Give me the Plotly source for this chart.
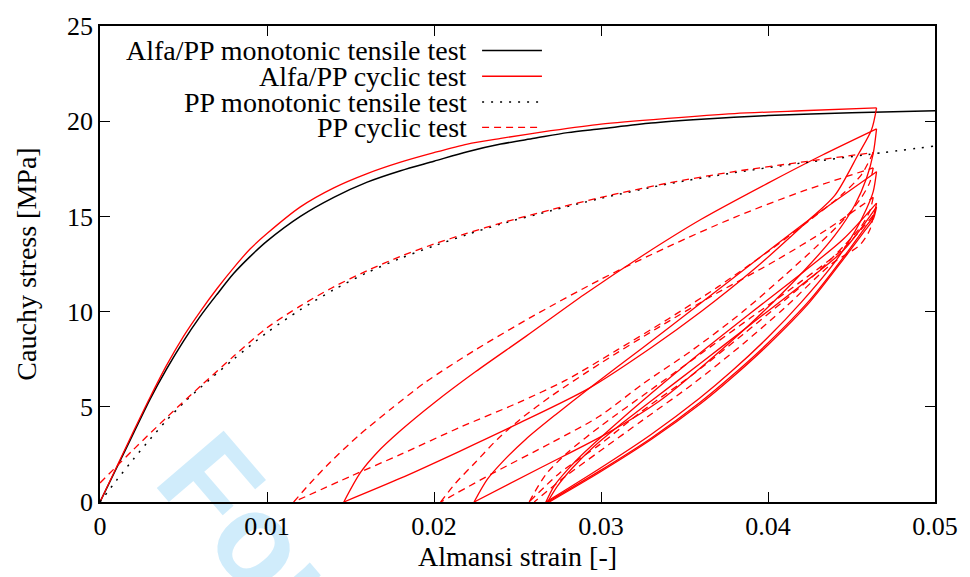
import plotly.graph_objects as go

# ---------------- data ----------------
# Alfa/PP monotonic tensile test (Almansi strain [-], Cauchy stress [MPa])
ALFA_MONO_STRAIN = [0, .001, .002, .003, .004, .005, .006, .007, .008, .009, .010, .012, .014,
                    .016, .018, .020, .022, .024, .026, .028, .030, .033, .036, .040, .045, .050]
ALFA_MONO_STRESS = [0, 1.8, 3.6, 5.4, 7.0, 8.45, 9.75, 10.9, 12.0, 12.9, 13.7, 15.0, 16.0,
                    16.8, 17.4, 17.9, 18.4, 18.8, 19.1, 19.4, 19.6, 19.9, 20.1, 20.3, 20.45, 20.55]

# Alfa/PP cyclic test: loading, then unload / reload loops at maximum strain
ALFA_CYC_STRAIN = [
    # first loading
    0, .001, .002, .003, .004, .005, .006, .007, .008, .009, .010, .012, .014, .016, .018,
    .020, .022, .024, .027, .030, .034, .038, .042, .0465,
    # unloading 1
    .0462, .0454, .0440, .0424, .039, .036, .033, .0293, .025, .0215, .018, .0146,
    # reloading 1
    .0156, .0166, .018, .020, .0225, .0255, .029, .0325, .036, .040, .0432, .0465,
    # unloading 2
    .0463, .0459, .0452, .0440, .042, .039, .0359, .0335, .0305, .0265, .0224,
    # reloading 2
    .0232, .0242, .0255, .0273, .0293, .0325, .0359, .039, .0425, .0465,
    # unloading 3
    .0463, .0459, .0452, .044, .042, .040, .0378, .0359, .033, .0299, .0267,
    # reloading 3
    .0272, .028, .029, .0305, .033, .0359, .039, .042, .0445, .0465,
    # unloading 4
    .0463, .0458, .0446, .0425, .040, .0378, .0359, .033, .0299, .0268,
    # reloading 4
    .0274, .0283, .0295, .031, .033, .0359, .039, .042, .0445, .0465,
    # unloading 5
    .0463, .0458, .0446, .0425, .040, .0378, .0359, .033, .0299, .0269,
]
ALFA_CYC_STRESS = [
    0, 1.85, 3.7, 5.5, 7.2, 8.7, 10.0, 11.2, 12.3, 13.3, 14.1, 15.5, 16.5, 17.25, 17.85,
    18.35, 18.8, 19.1, 19.5, 19.85, 20.15, 20.4, 20.55, 20.7,
    19.55, 18.25, 16.1, 14.77, 12.1, 10.0, 8.1, 5.98, 4.1, 2.65, 1.25, 0,
    1.55, 2.6, 3.75, 5.2, 6.85, 8.7, 10.9, 12.95, 14.85, 16.75, 18.2, 19.6,
    18.3, 17.0, 15.6, 14.0, 12.0, 9.4, 7.0, 5.3, 3.67, 1.85, 0,
    1.2, 2.2, 3.3, 4.6, 5.98, 8.1, 10.4, 12.5, 14.85, 17.35,
    16.3, 15.4, 14.2, 12.6, 10.5, 8.65, 6.85, 5.45, 3.55, 1.75, 0,
    0.85, 1.7, 2.6, 3.8, 5.7, 7.8, 9.95, 12.0, 13.8, 15.7,
    15.0, 14.4, 12.95, 10.6, 8.35, 6.6, 5.21, 3.35, 1.62, 0,
    0.85, 1.8, 2.85, 3.95, 5.3, 7.25, 9.35, 11.4, 13.2, 15.5,
    14.85, 14.25, 12.85, 10.5, 8.25, 6.5, 5.12, 3.28, 1.55, 0,
]

# PP monotonic tensile test
PP_MONO_STRAIN = [0, .001, .002, .003, .004, .005, .006, .008, .010, .012, .014, .016, .018,
                  .020, .022, .024, .027, .030, .034, .038, .042, .046, .050]
PP_MONO_STRESS = [0, 1.15, 2.25, 3.3, 4.3, 5.2, 6.0, 7.5, 8.9, 10.1, 11.15, 12.05, 12.8,
                  13.45, 14.05, 14.6, 15.3, 15.95, 16.7, 17.3, 17.8, 18.25, 18.7]

# PP cyclic test
PP_CYC_STRAIN = [
    # first loading
    0, .002, .004, .0061, .008, .010, .012, .014, .016, .018, .020, .022, .024, .027, .030,
    .034, .0378, .042, .0463,
    # unloading 1
    .0456, .0445, .0425, .040, .037, .034, .031, .0279, .025, .0215, .018, .015, .0116,
    # reloading 1
    .0126, .0138, .0155, .0174, .0195, .0225, .026, .030, .034, .038, .042, .0463,
    # unloading 2
    .0461, .0456, .0446, .0430, .041, .0385, .0355, .0325, .0299, .027, .0235, .0204,
    # reloading 2
    .0213, .0225, .0238, .0251, .027, .030, .0335, .037, .0405, .0435, .0463,
    # unloading 3
    .0461, .0456, .0446, .043, .041, .0385, .0355, .0325, .0299, .0275, .0257,
    # reloading 3
    .0267, .028, .030, .033, .036, .039, .042, .0445, .0463,
    # unloading 4
    .0461, .0455, .0438, .041, .0385, .0355, .0325, .0299, .0278, .0260,
]
PP_CYC_STRESS = [
    1.0, 2.75, 4.45, 6.15, 7.65, 9.15, 10.3, 11.3, 12.15, 12.9, 13.55, 14.12, 14.65, 15.35, 16.0,
    16.75, 17.33, 17.85, 18.35,
    17.2, 16.2, 14.8, 13.15, 11.3, 9.6, 8.0, 6.4, 5.2, 3.9, 2.5, 1.35, 0,
    1.0, 2.1, 3.5, 4.87, 6.3, 8.0, 9.8, 11.7, 13.4, 14.95, 16.3, 17.55,
    16.8, 16.0, 14.9, 13.5, 11.9, 10.0, 8.0, 6.2, 4.5, 3.1, 1.5, 0,
    1.0, 2.1, 3.3, 4.3, 5.55, 7.3, 9.2, 11.0, 12.7, 14.3, 16.0,
    15.3, 14.5, 13.5, 12.1, 10.6, 8.8, 6.7, 4.8, 3.0, 1.5, 0,
    1.45, 2.6, 4.0, 5.9, 7.8, 9.7, 11.6, 13.3, 15.05,
    14.3, 13.5, 12.5, 10.2, 8.3, 6.2, 4.3, 2.65, 1.3, 0,
]

LEGEND_LABELS = ["Alfa/PP monotonic tensile test", "Alfa/PP cyclic test",
                 "PP monotonic tensile test", "PP cyclic test"]
X_TICKS = [0, 0.01, 0.02, 0.03, 0.04, 0.05]
X_TICK_TEXT = ["0", "0.01", "0.02", "0.03", "0.04", "0.05"]
Y_TICKS = [0, 5, 10, 15, 20, 25]

# ---------------- styles ----------------
RED = "#ff0000"
BLACK = "#000000"
SERIF = "Liberation Serif"
styles = [
    dict(color=BLACK, width=1.5, dash="solid"),
    dict(color=RED, width=1.3, dash="solid"),
    dict(color=BLACK, width=1.5, dash="2px,7px"),
    dict(color=RED, width=1.3, dash="7px,5px"),
]
series = [
    (ALFA_MONO_STRAIN, ALFA_MONO_STRESS),
    (ALFA_CYC_STRAIN, ALFA_CYC_STRESS),
    (PP_MONO_STRAIN, PP_MONO_STRESS),
    (PP_CYC_STRAIN, PP_CYC_STRESS),
]


def branches(xs, ys):
    """Split a load path into loading / unloading branches (strain direction changes)."""
    out, cur, direction = [], [(xs[0], ys[0])], 0
    for x, y in zip(xs[1:], ys[1:]):
        d = 1 if x > cur[-1][0] else -1
        if direction and d != direction:
            out.append(cur)
            cur = [cur[-1]]
        direction = d
        cur.append((x, y))
    out.append(cur)
    return out


fig = go.Figure()
for (xs, ys), st, name in zip(series, styles, LEGEND_LABELS):
    for br in branches(xs, ys):
        fig.add_trace(go.Scatter(
            x=[p[0] for p in br], y=[p[1] for p in br], mode="lines", name=name,
            legendgroup=name, line=dict(st, shape="spline", smoothing=0.8),
            showlegend=False, hoverinfo="skip"))

# plot-area geometry (pixels) used to place the key and the watermark
W, H = 970, 577
ML, MR, MT, MB = 100, 33, 17, 72
PW, PH = W - ML - MR, H - MT - MB


def px_x(px):
    return (px - ML) / PW


def px_y(py):
    return (H - MB - py) / PH


# key: label text on the left, line sample on the right
key_rows = [42, 68.5, 95, 121]
for label, st, row in zip(LEGEND_LABELS, styles, key_rows):
    fig.add_annotation(x=px_x(470), y=px_y(row), xref="paper", yref="paper",
                       text=label, showarrow=False, xanchor="right", yanchor="middle",
                       font=dict(family=SERIF, size=28, color=BLACK))
    fig.add_shape(type="line", xref="paper", yref="paper",
                  x0=px_x(483), x1=px_x(543), y0=px_y(row), y1=px_y(row), line=st)

# light watermark behind the curves
wx0, wy0 = 140, 494
fig.add_shape(type="line", xref="paper", yref="paper", layer="below",
              x0=px_x(wx0), y0=px_y(wy0), x1=px_x(wx0 + 640), y1=px_y(wy0 + 763),
              line=dict(width=0, color="rgba(0,0,0,0)"),
              label=dict(text="<b>For Peer Review</b>", textposition="start",
                         font=dict(family="Liberation Sans", size=128,
                                   color="rgb(208,236,251)"),
                         padding=0, yanchor="bottom"))

axis_common = dict(showline=True, linecolor=BLACK, linewidth=1.5, mirror="ticks",
                   ticks="inside", ticklen=10, tickwidth=1.2, tickcolor=BLACK,
                   showgrid=False, zeroline=False,
                   tickfont=dict(family=SERIF, size=26, color=BLACK))

fig.update_layout(
    width=W, height=H,
    margin=dict(l=ML, r=MR, t=MT, b=MB),
    paper_bgcolor="white", plot_bgcolor="rgba(0,0,0,0)",
    showlegend=False,
    xaxis=dict(range=[0, 0.05], tickvals=X_TICKS, ticktext=X_TICK_TEXT,
               title=dict(text="Almansi strain [-]", standoff=4,
                          font=dict(family=SERIF, size=28, color=BLACK)),
               **axis_common),
    yaxis=dict(range=[0, 25], tickvals=Y_TICKS,
               title=dict(text="Cauchy stress [MPa]", standoff=22,
                          font=dict(family=SERIF, size=28, color=BLACK)),
               **axis_common),
)

fig.write_html("out.html")
